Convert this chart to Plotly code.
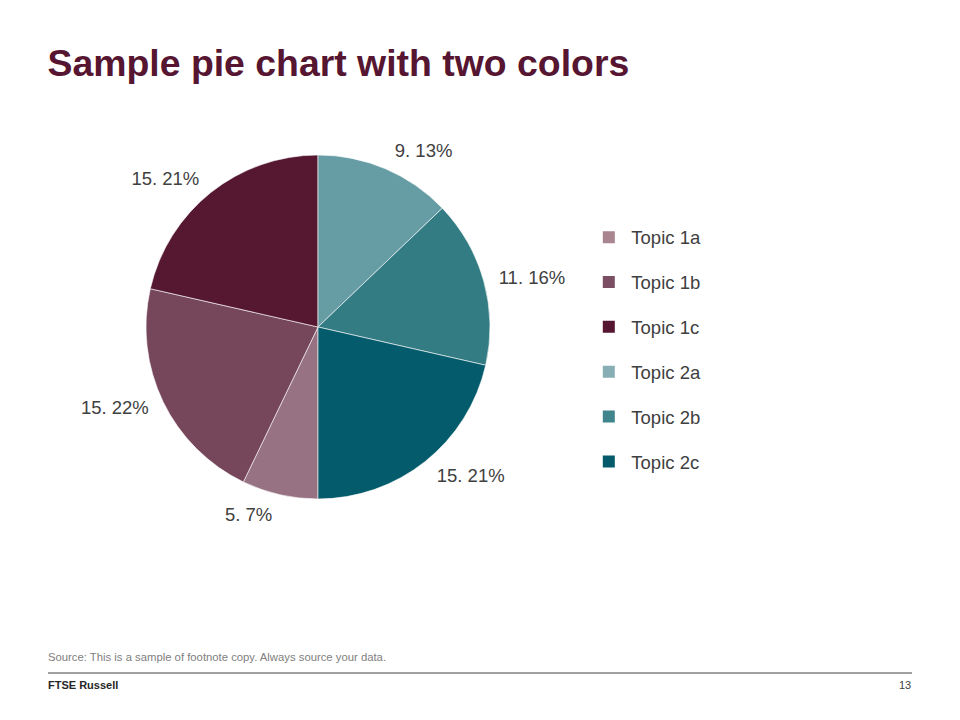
import plotly.graph_objects as go

topics = ["Topic 1a", "Topic 1b", "Topic 1c", "Topic 2a", "Topic 2b", "Topic 2c"]
values = [5, 15, 15, 9, 11, 15]
pct_labels = ["7%", "22%", "21%", "13%", "16%", "21%"]
slice_colors = ["#977282", "#76475B", "#561731", "#669CA4", "#337C84", "#035B6B"]
legend_colors = ["#A98590", "#7B4E63", "#561530", "#86AEB4", "#40858B", "#055A6B"]

text_color = "#404040"
font_family = "Liberation Sans, Arial, sans-serif"

W, H = 960, 720
OFF = 8  # page body margin


def px(x):
    return (x - OFF) / W


def py(y):
    return 1 - (y - OFF) / H


cx, cy, r = 318, 327, 172
label_r = r + 10

fig = go.Figure()
# visible slices
fig.add_trace(go.Pie(
    labels=topics,
    values=values,
    textinfo="none",
    marker=dict(colors=slice_colors, line=dict(color="white", width=0.6)),
    sort=False,
    direction="clockwise",
    rotation=180,
    showlegend=False,
    domain=dict(x=[px(cx - r), px(cx + r)], y=[py(cy + r), py(cy - r)]),
))
# transparent ring carrying the data labels slightly further out
fig.add_trace(go.Pie(
    labels=topics,
    values=values,
    text=[f"{v}. {p}" for v, p in zip(values, pct_labels)],
    textinfo="text",
    textposition="outside",
    textfont=dict(size=18.5, color=text_color, family=font_family),
    marker=dict(colors=["rgba(0,0,0,0)"] * len(topics), line=dict(width=0)),
    sort=False,
    direction="clockwise",
    rotation=180,
    showlegend=False,
    hoverinfo="skip",
    domain=dict(x=[px(cx - label_r), px(cx + label_r)], y=[py(cy + label_r), py(cy - label_r)]),
))

for name, c in zip(topics, legend_colors):
    fig.add_trace(go.Scatter(
        x=[None], y=[None], mode="markers", name=name,
        marker=dict(symbol="square", size=14, color=c),
        legendgroup=name,
    ))

fig.update_layout(
    width=W, height=H,
    margin=dict(l=0, r=0, t=0, b=0),
    paper_bgcolor="white", plot_bgcolor="white",
    xaxis=dict(visible=False), yaxis=dict(visible=False),
    font=dict(family=font_family, color=text_color),
    legend=dict(
        x=0.6024, y=0.7075, xanchor="left", yanchor="top",
        font=dict(size=18.5, color=text_color, family=font_family),
        tracegroupgap=17.8, itemsizing="constant", itemwidth=35,
        bgcolor="rgba(0,0,0,0)",
    ),
    title=dict(
        text="<b>Sample pie chart with two colors</b>",
        x=px(47.5), xanchor="left", y=py(63), yanchor="middle",
        font=dict(size=37.4, color="#561530", family=font_family),
    ),
    annotations=[
        dict(text="Source: This is a sample of footnote copy. Always source your data.",
             x=px(46), y=py(657), xref="paper", yref="paper", xanchor="left", yanchor="middle",
             showarrow=False, font=dict(size=11.3, color="#808080", family=font_family)),
        dict(text="<b>FTSE Russell</b>",
             x=px(46), y=py(685), xref="paper", yref="paper", xanchor="left", yanchor="middle",
             showarrow=False, font=dict(size=11, color="#262626", family=font_family)),
        dict(text="13",
             x=px(913), y=py(685), xref="paper", yref="paper", xanchor="right", yanchor="middle",
             showarrow=False, font=dict(size=11, color="#404040", family=font_family)),
    ],
    shapes=[dict(type="line", xref="paper", yref="paper", x0=px(48), x1=px(912),
                 y0=py(673), y1=py(673), line=dict(color="#404040", width=1))],
)

fig.write_html("out.html")
